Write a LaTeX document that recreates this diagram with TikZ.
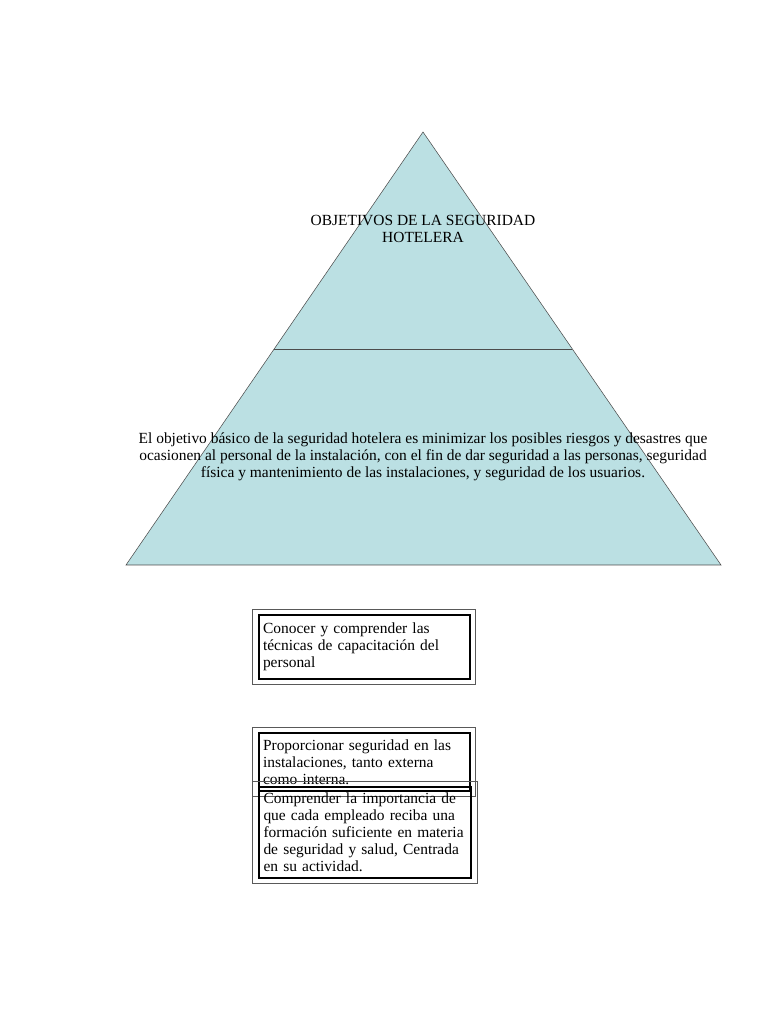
\documentclass[tikz,border=0pt]{standalone}
\usepackage{fontspec}
\setmainfont{Liberation Serif}
\usetikzlibrary{calc}
\definecolor{piramide}{RGB}{187,224,227}
\tikzset{
    caja/.style={draw=black, line width=1.1pt, minimum width=211*0.75pt, inner sep=3pt,
                 text width=203*0.75pt, align=left},
    marco/.style={draw=black!65, line width=0.8pt}
}
\begin{document}
\begin{tikzpicture}[x=0.75pt, y=0.75pt, every node/.style={font=\fontsize{11.6}{12.75}\selectfont}]
    \useasboundingbox (0,0) rectangle (768,1024);

    % Pirámide
    \coordinate (cima) at (423,892);
    \coordinate (izq) at (126,459);
    \coordinate (der) at (721,459);
    \draw[black!70, thin, fill=piramide] (cima) -- (der) -- (izq) -- cycle;
    \draw[black!70, thin] ($(cima)!0.501!(izq)$) -- ($(cima)!0.501!(der)$);

    % Textos de la pirámide
    \node[align=center] (titulo) at (423,795) {OBJETIVOS DE LA SEGURIDAD\\HOTELERA};
    \node[align=center] (basico) at (423,567) {El objetivo básico de la seguridad hotelera es minimizar los posibles riesgos y desastres que\\
        ocasionen al personal de la instalación, con el fin de dar seguridad a las personas, seguridad\\
        física y mantenimiento de las instalaciones, y seguridad de los usuarios.};

    % Cajas
    \node[caja, minimum height=64*0.75pt] (conocer) at (364.5,377) {Conocer y comprender las\\técnicas de capacitación del\\personal};
    \draw[marco] ([shift={(-6,-5)}]conocer.south west) rectangle ([shift={(5,5)}]conocer.north east);

    \node[caja, minimum height=58*0.75pt] (proporcionar) at (364.5,262) {Proporcionar seguridad en las\\instalaciones, tanto externa\\como interna.};
    \draw[marco] ([shift={(-6,-5)}]proporcionar.south west) rectangle ([shift={(5,5)}]proporcionar.north east);

    \node[caja, minimum height=91*0.75pt, minimum width=212*0.75pt] (comprender) at (365,191.5) {Comprender la importancia de\\que cada empleado reciba una\\formación suficiente en materia\\de seguridad y salud, Centrada\\en su actividad.};
    \draw[marco] ([shift={(-6,-5)}]comprender.south west) rectangle ([shift={(6,5)}]comprender.north east);
\end{tikzpicture}
\end{document}
